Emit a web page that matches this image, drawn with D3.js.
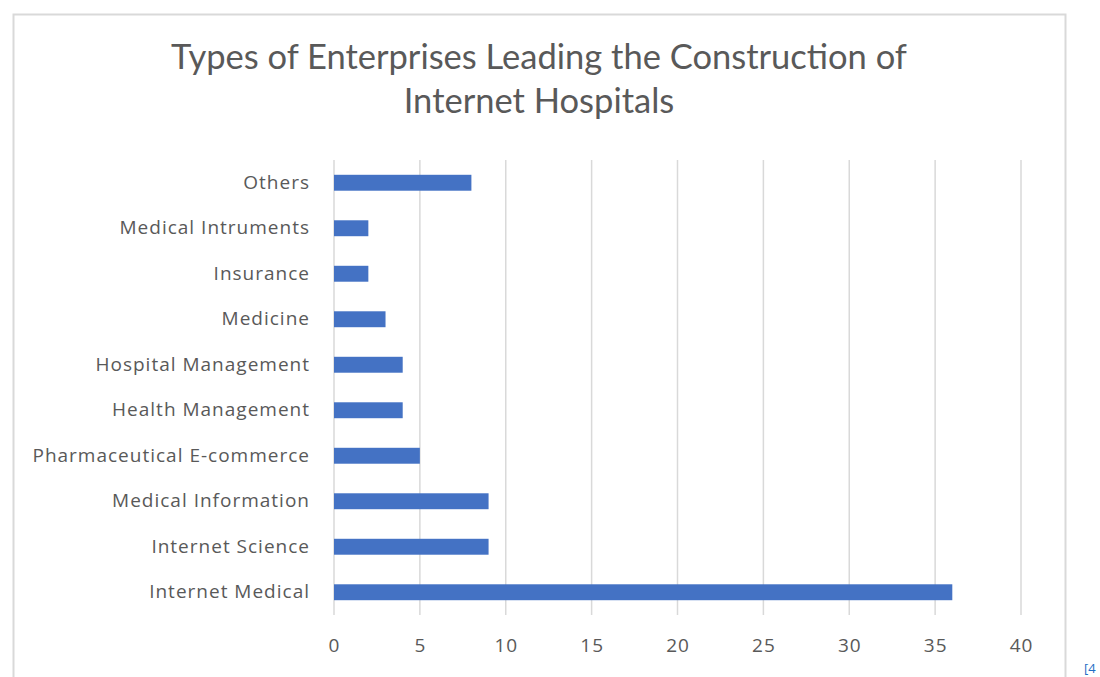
<!DOCTYPE html>
<html>
<head>
<meta charset="utf-8">
<script src="https://cdn.jsdelivr.net/npm/d3@7"></script>
<style>
  body { margin: 0; background: #fff; }
  .title { font-family: Lato, "Open Sans", sans-serif; }
  .lbl { font-family: "Open Sans", Lato, sans-serif; }
</style>
</head>
<body>
<svg width="1100" height="677"></svg>
<script>
const categories = ["Others", "Medical Intruments", "Insurance", "Medicine", "Hospital Management",
  "Health Management", "Pharmaceutical E-commerce", "Medical Information", "Internet Science", "Internet Medical"]
const values = [8, 2, 2, 3, 4, 4, 5, 9, 9, 36]
const xTicks = [0, 5, 10, 15, 20, 25, 30, 35, 40]
const titleLines = ["Types of Enterprises Leading the Construction of", "Internet Hospitals"]

const svg = d3.select("svg")

// outer chart frame
svg.append("rect")
  .attr("x", 13.5).attr("y", 14.5)
  .attr("width", 1052).attr("height", 700)
  .attr("fill", "#fff")
  .attr("stroke", "#d9d9d9")
  .attr("stroke-width", 2)

svg.append("g").selectAll("text")
  .data(titleLines)
  .join("text")
  .attr("class", "title")
  .attr("x", 539)
  .attr("y", (d, i) => 69 + i * 44)
  .attr("text-anchor", "middle")
  .attr("fill", "#595959")
  .attr("font-size", 34.5)
  .text(d => d)

const margin = { left: 334, top: 160, right: 1021, bottom: 615 }

const x = d3.scaleLinear().domain([0, 40]).range([margin.left, margin.right])
const y = d3.scaleBand().domain(categories).range([margin.top, margin.bottom]).paddingInner(0.65).paddingOuter(0.325)

// vertical gridlines
svg.append("g").selectAll("line")
  .data(xTicks)
  .join("line")
  .attr("x1", d => x(d)).attr("x2", d => x(d))
  .attr("y1", margin.top).attr("y2", margin.bottom)
  .attr("stroke", "#d9d9d9")
  .attr("stroke-width", 1.5)

svg.append("g").selectAll("rect")
  .data(values)
  .join("rect")
  .attr("x", x(0))
  .attr("y", (d, i) => y(categories[i]))
  .attr("width", d => x(d) - x(0))
  .attr("height", y.bandwidth())
  .attr("fill", "#4472c4")

// category labels
const yAxis = svg.append("g")
  .attr("transform", `translate(${margin.left},0)`)
  .call(d3.axisLeft(y).tickSize(0).tickPadding(24))
yAxis.select(".domain").remove()
yAxis.selectAll("text")
  .attr("class", "lbl")
  .style("font-size", "19px")
  .style("letter-spacing", "1px")
  .attr("fill", "#595959")

const xAxis = svg.append("g")
  .attr("transform", `translate(0,${margin.bottom})`)
  .call(d3.axisBottom(x).tickValues(xTicks).tickSize(0).tickPadding(24))
xAxis.select(".domain").remove()
xAxis.selectAll("text")
  .attr("class", "lbl")
  .style("font-size", "19px")
  .style("letter-spacing", "1px")
  .attr("fill", "#595959")

svg.append("text")
  .attr("class", "lbl")
  .attr("x", 1084).attr("y", 673)
  .attr("fill", "#1f6fc5")
  .style("font-size", "13px")
  .text("[4")
</script>
</body>
</html>
